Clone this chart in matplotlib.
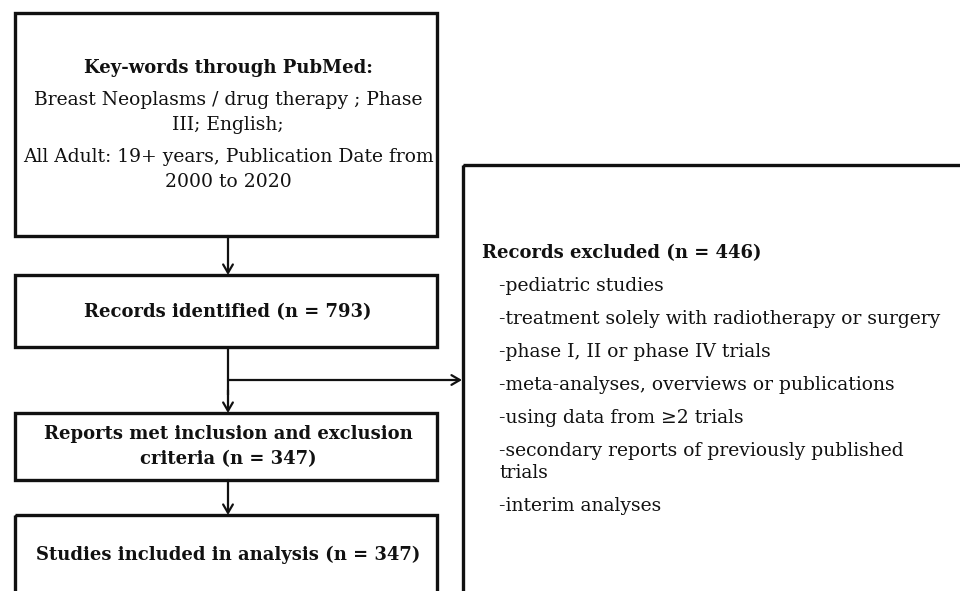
import matplotlib
matplotlib.use("Agg")
import matplotlib.pyplot as plt
from matplotlib.patches import Rectangle

# ---- content ----
box1_title = "Key-words through PubMed:"
box1_lines = ["Breast Neoplasms / drug therapy ; Phase", "III; English;",
              "All Adult: 19+ years, Publication Date from", "2000 to 2020"]
box2_text = "Records identified (n = 793)"
box3_lines = ["Reports met inclusion and exclusion", "criteria (n = 347)"]
box4_text = "Studies included in analysis (n = 347)"
excl_title = "Records excluded (n = 446)"
excl_items = ["-pediatric studies",
              "-treatment solely with radiotherapy or surgery",
              "-phase I, II or phase IV trials",
              "-meta-analyses, overviews or publications",
              "-using data from \u22652 trials",
              "-secondary reports of previously published",
              "trials",
              "-interim analyses"]

FONT = ["DejaVu Serif"]
FS_B = 13.0
FS_R = 13.5

fig = plt.figure(figsize=(9.6, 5.91), dpi=100)
ax = fig.add_axes([0, 0, 1, 1])
ax.set_xlim(0, 960)
ax.set_ylim(591, 0)
ax.axis("off")

BLW = 2.4
ALW = 1.6

def box(x0, y0, x1, y1):
    ax.add_patch(Rectangle((x0, y0), x1 - x0, y1 - y0, fill=False,
                           edgecolor="#111111", linewidth=BLW, joinstyle="miter",
                           clip_on=True))

def txt(x, y, s, bold=False, ha="center"):
    ax.text(x, y, s, ha=ha, va="center", fontsize=FS_B if bold else FS_R,
            family=FONT, fontweight="bold" if bold else "normal", color="#111111")

def arrow(x0, y0, x1, y1):
    ax.annotate("", xy=(x1, y1), xytext=(x0, y0),
                arrowprops=dict(arrowstyle="->,head_length=0.6,head_width=0.35",
                                lw=ALW, color="#111111", shrinkA=0, shrinkB=0))

cx = 228
# boxes
box(15, 13, 437, 236)
box(15, 275, 437, 347)
box(15, 413, 437, 480)
box(15, 515, 437, 620)
box(463, 165, 990, 620)

# text in boxes
txt(cx, 68, box1_title, bold=True)
for y, s in zip([100, 125, 157, 182], box1_lines):
    txt(cx, y, s)
txt(cx, 312, box2_text, bold=True)
for y, s in zip([434, 459], box3_lines):
    txt(cx, y, s, bold=True)
txt(cx, 555, box4_text, bold=True)

txt(482, 253, excl_title, bold=True, ha="left")
for y, s in zip([286, 319, 352, 385, 418, 451, 473, 506], excl_items):
    txt(499, y, s, ha="left")

# arrows
arrow(cx, 236, cx, 275)
ax.plot([cx, cx], [347, 395], color="#111111", lw=ALW, solid_capstyle="butt")
arrow(cx, 380, 462, 380)
arrow(cx, 390, cx, 413)
arrow(cx, 480, cx, 515)

fig.savefig("out.png", dpi=100, facecolor="white")
